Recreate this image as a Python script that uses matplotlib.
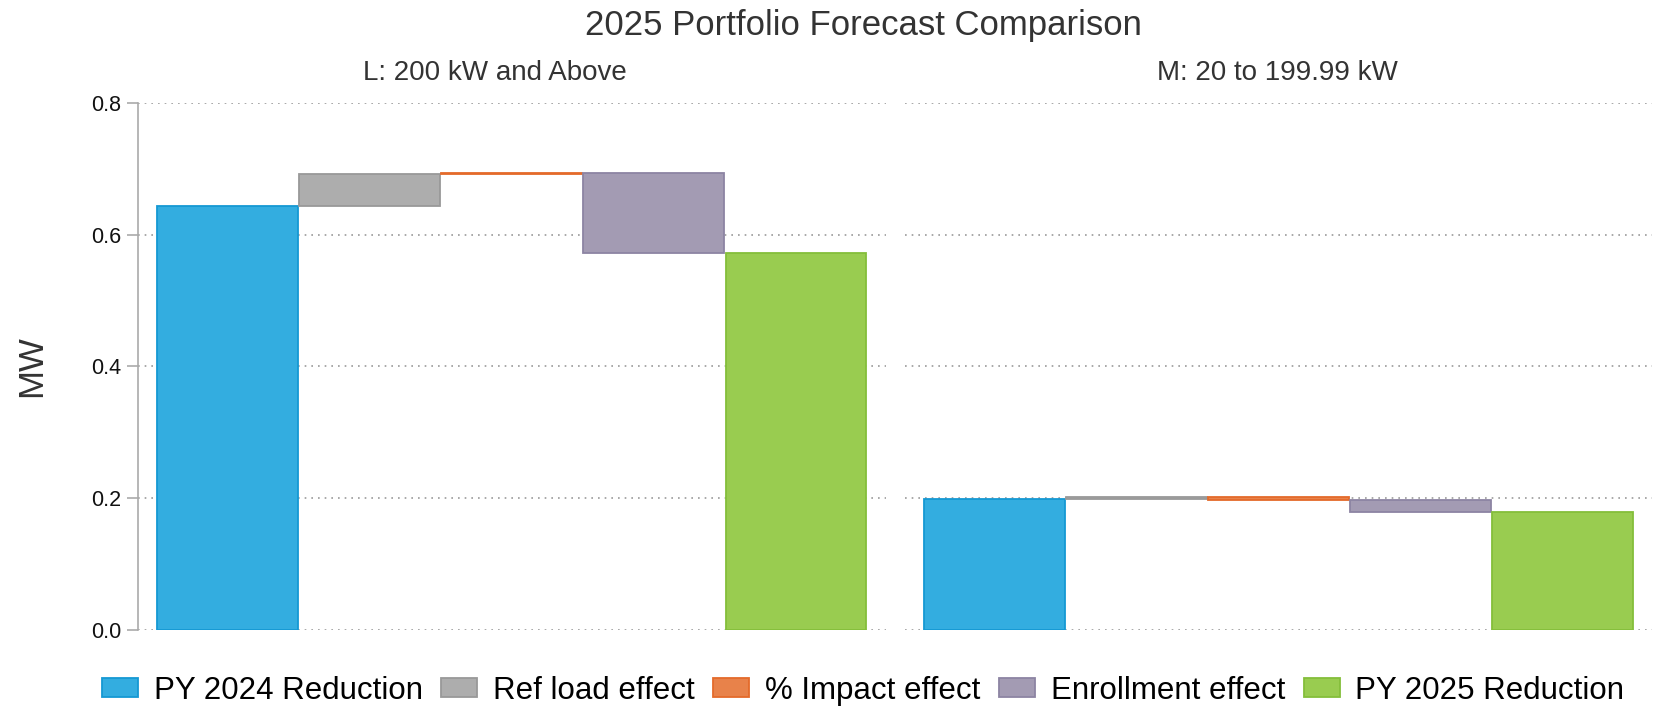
import numpy as np
import matplotlib
matplotlib.use("Agg")
import matplotlib.pyplot as plt
from matplotlib.patches import Patch

plt.rcParams['font.family'] = ['Liberation Sans', 'DejaVu Sans']

# data
steps = ["PY 2024 Reduction", "Ref load effect", "% Impact effect", "Enrollment effect", "PY 2025 Reduction"]
panels = ["L: 200 kW and Above", "M: 20 to 199.99 kW"]
start_L = 0.644
deltas_L = [0.048, 0.0015, -0.1215]
start_M = 0.199
deltas_M = [0.0036, -0.005, -0.0181]

fills = ["#33ADE0", "#ADADAD", "#E8824A", "#A39BB3", "#99CC50"]
edges = ["#1598D3", "#999999", "#E46A2A", "#8C84A3", "#84BE3A"]


def waterfall(start, deltas):
    bottoms, heights = [0.0], [start]
    level = start
    for d in deltas:
        bottoms.append(min(level, level + d))
        heights.append(abs(d))
        level += d
    bottoms.append(0.0)
    heights.append(level)
    return bottoms, heights


W, H = 1663, 711
fig = plt.figure(figsize=(W / 100, H / 100), dpi=100)
ax1 = fig.add_axes([0.0829, 0.1139, 0.4496, 0.7414])
ax2 = fig.add_axes([0.5440, 0.1139, 0.4496, 0.7414])

sub_x = [495 / W, 1277 / W]
for ax, name, st, dl, sx in [(ax1, panels[0], start_L, deltas_L, sub_x[0]),
                             (ax2, panels[1], start_M, deltas_M, sub_x[1])]:
    b, h = waterfall(st, dl)
    x = np.arange(len(steps))
    ax.bar(x, h, bottom=b, width=0.99, color=fills, edgecolor=edges, linewidth=1.3, zorder=3)
    ax.set_xlim(-0.63, 4.63)
    ax.set_ylim(0, 0.8)
    ax.set_yticks([0.0, 0.2, 0.4, 0.6, 0.8])
    ax.set_xticks([])
    ax.grid(axis='y', linestyle=(0, (1, 3)), color='#999999', linewidth=1.2, zorder=0)
    for s in ['top', 'right', 'bottom']:
        ax.spines[s].set_visible(False)
    fig.text(sx, 1 - 80 / H, name, fontsize=20, color='#333333', ha='center', va='baseline')

ax1.spines['left'].set_color('#AAAAAA')
ax1.spines['left'].set_linewidth(1.2)
ax1.tick_params(axis='y', length=8, color='#AAAAAA', width=1.2, labelsize=15.5,
                labelcolor='#111111', pad=4)
ax1.set_yticklabels(["0.0", "0.2", "0.4", "0.6", "0.8"])

ax2.spines['left'].set_visible(False)
ax2.tick_params(axis='y', length=0, labelleft=False)

fig.text(31.5 / W, 0.5 * (ax1.get_position().y0 + ax1.get_position().y1), "MW", fontsize=25,
         color='#333333', rotation=90, ha='center', va='center')
fig.text(0.519, 1 - 35 / H, "2025 Portfolio Forecast Comparison", fontsize=25,
         color='#333333', ha='center', va='baseline')

handles = [Patch(facecolor=f, edgecolor=e, linewidth=1.3) for f, e in zip(fills, edges)]
fig.legend(handles, steps, loc='lower center', ncol=5, frameon=False, fontsize=22.5,
           bbox_to_anchor=(0.519, -0.028), handlelength=1.15, handleheight=0.55,
           columnspacing=0.6, handletextpad=0.5, borderpad=0.3)

fig.savefig("out.png", dpi=100)
